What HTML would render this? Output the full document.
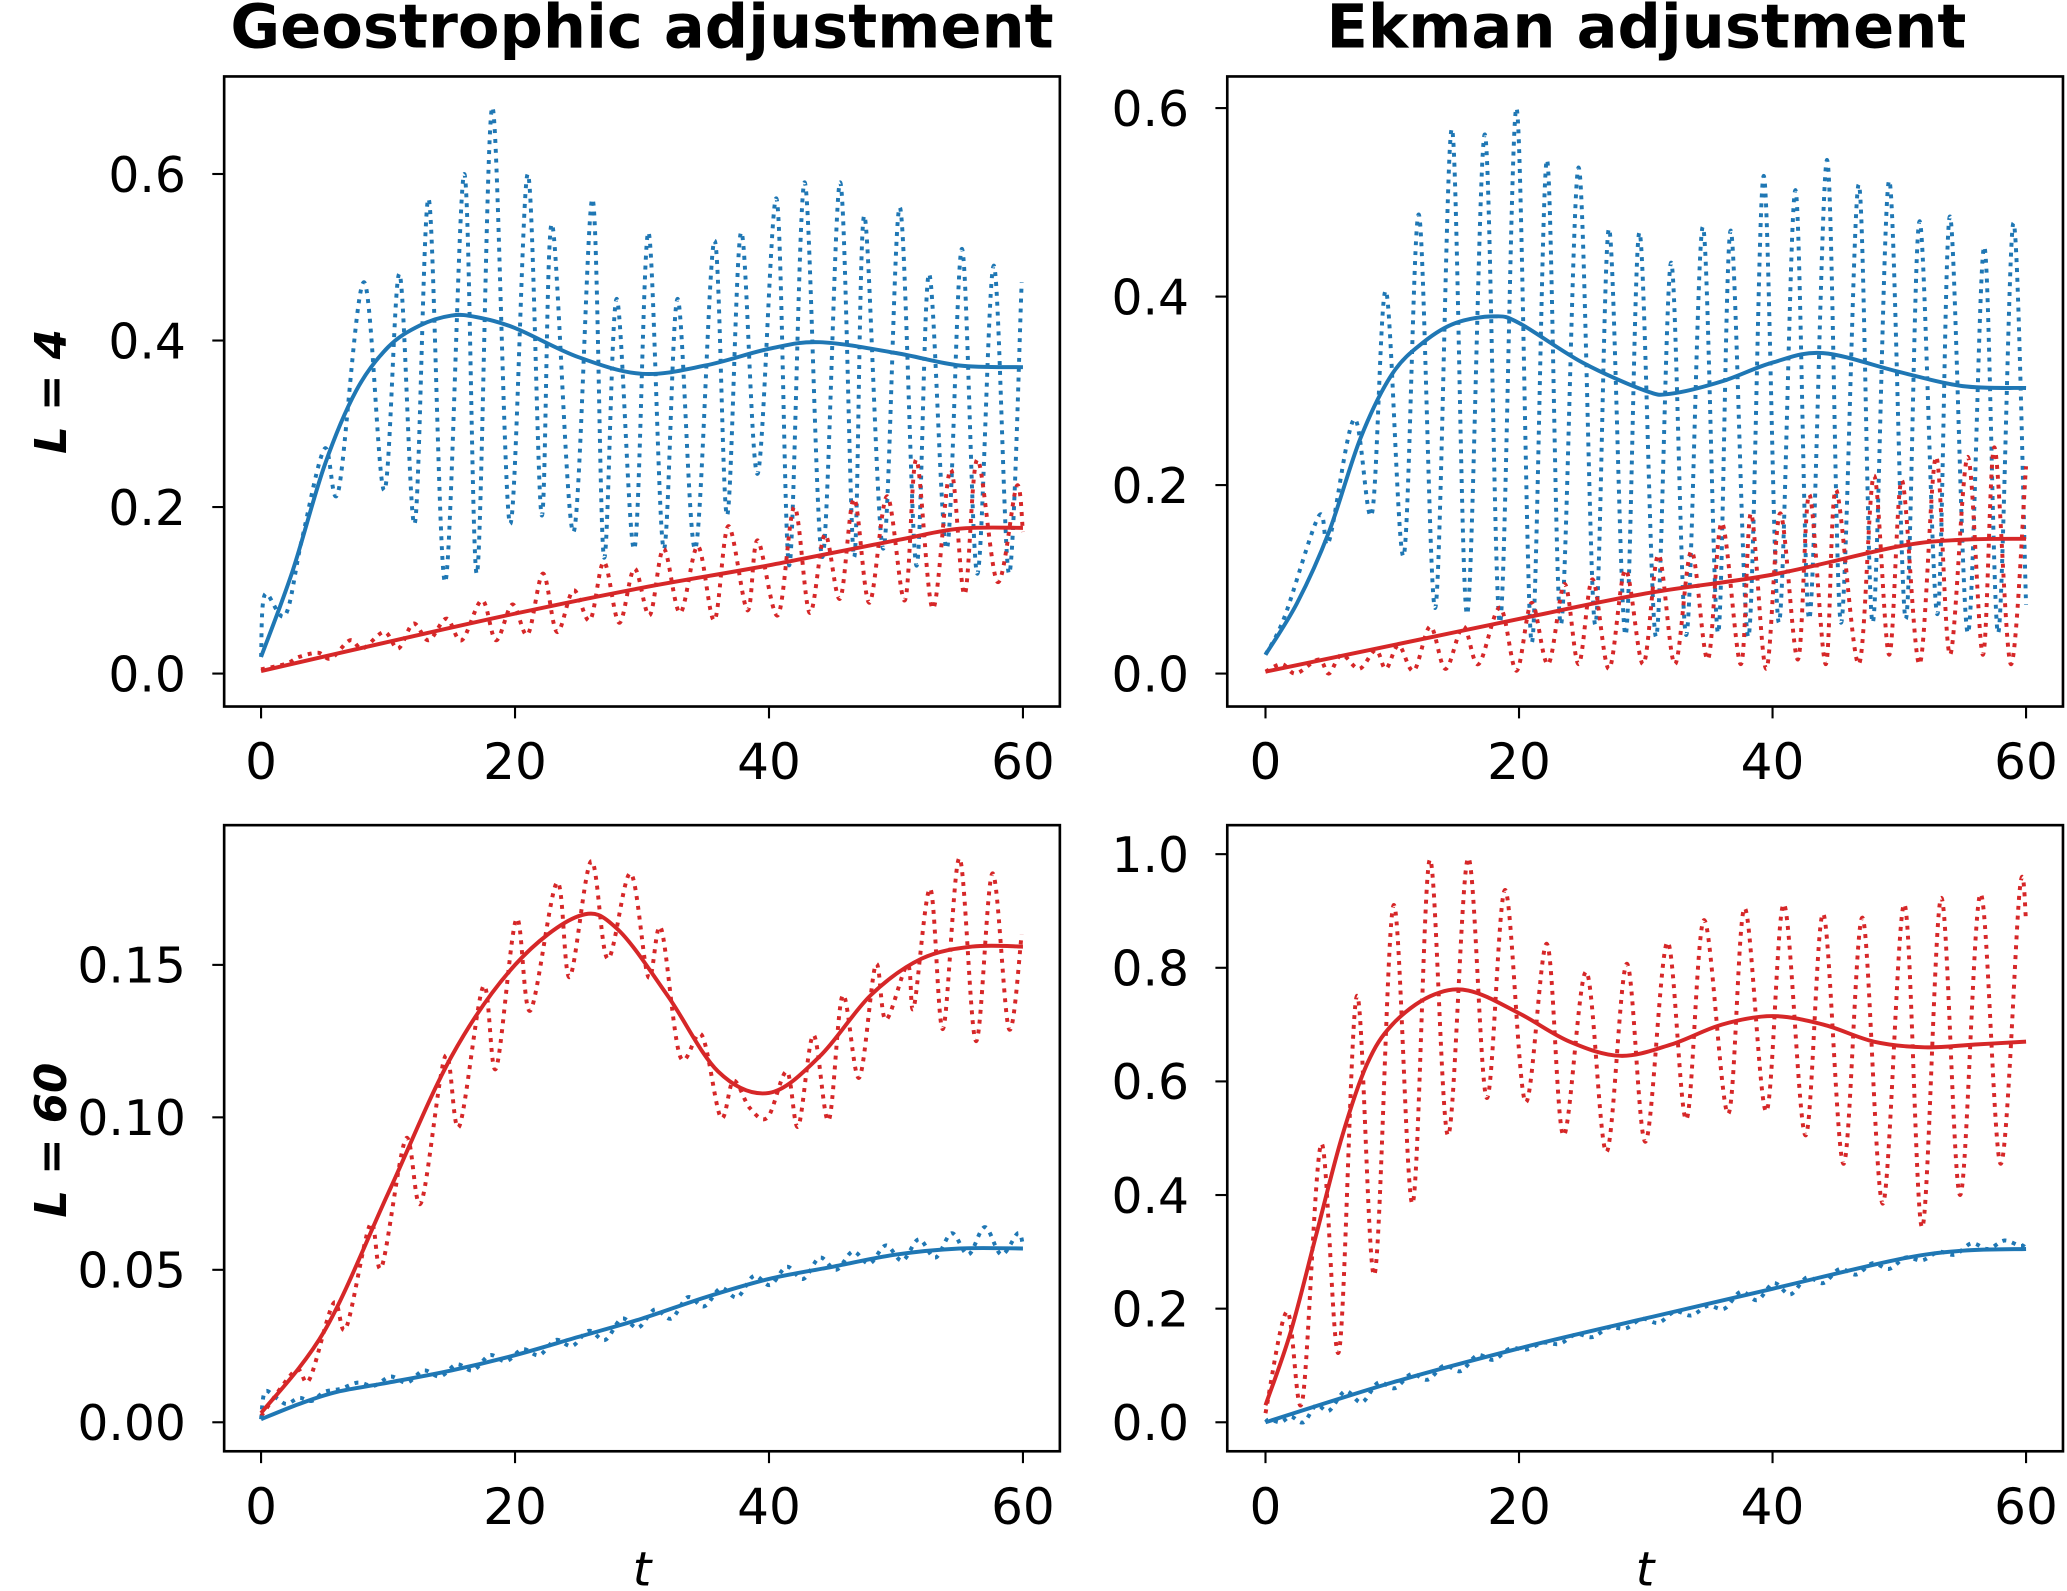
<!DOCTYPE html>
<html><head><meta charset="utf-8">
<style>
html,body{margin:0;padding:0;background:#fff;}
svg{display:block;}
text{font-family:"DejaVu Sans","Liberation Sans",sans-serif;fill:#000;}
</style></head>
<body>
<svg id="fig" xmlns="http://www.w3.org/2000/svg" width="2067" height="1591" viewBox="0 0 1568 1207">
<rect x="0" y="0" width="1568" height="1207" fill="#fff"/>
<text x="487" y="36" font-size="46" font-weight="bold" text-anchor="middle">Geostrophic adjustment</text>
<text x="1249" y="36" font-size="46" font-weight="bold" text-anchor="middle">Ekman adjustment</text>
<text transform="translate(50,297) rotate(-90)" font-size="33" font-weight="bold" font-style="italic" text-anchor="middle">L = 4</text>
<text transform="translate(50,865) rotate(-90)" font-size="33" font-weight="bold" font-style="italic" text-anchor="middle">L = 60</text>
<text x="487" y="1203" font-size="36" font-style="italic" text-anchor="middle">t</text>
<text x="1248" y="1203" font-size="36" font-style="italic" text-anchor="middle">t</text>
<g id="plots"></g>
</svg>
<script>
// ---------- data ----------
const xTicks = [0, 20, 40, 60];
const yTicksTL = [0.0, 0.2, 0.4, 0.6], yLabelsTL = ["0.0","0.2","0.4","0.6"];
const yTicksTR = [0.0, 0.2, 0.4, 0.6], yLabelsTR = ["0.0","0.2","0.4","0.6"];
const yTicksBL = [0, 0.05, 0.10, 0.15], yLabelsBL = ["0.00","0.05","0.10","0.15"];
const yTicksBR = [0, 0.2, 0.4, 0.6, 0.8, 1.0], yLabelsBR = ["0.0","0.2","0.4","0.6","0.8","1.0"];

// Top-left (Geostrophic, L=4)
const tlBlueSolidT = [0,2.5,5,7.5,10,12.5,15,17,20,25,30,35,40,44,50,55,60];
const tlBlueSolidV = [0.02,0.124,0.25,0.34,0.392,0.418,0.43,0.428,0.415,0.38,0.36,0.37,0.39,0.398,0.385,0.37,0.368];
const tlRedSolidT = [0,10,20,30,40,50,55,60];
const tlRedSolidV = [0.003,0.038,0.072,0.103,0.13,0.16,0.174,0.175];
const tlBlueDotT = [0,0.3,1.9,3.2,5,6.1,8.1,9.7,10.9,12.1,13.2,14.5,16,17,18.2,19.6,21,22.1,22.9,24.6,26.1,27,28,29.4,30.5,31.7,32.8,34.2,35.7,36.7,37.8,39.1,40.6,41.6,42.8,44.2,45.6,46.7,47.5,49,50.3,51.6,52.6,54,55.2,56.4,57.7,58.9,59.9];
const tlBlueDotV = [0.02,0.095,0.07,0.16,0.27,0.22,0.47,0.22,0.48,0.18,0.57,0.11,0.60,0.12,0.68,0.18,0.60,0.19,0.54,0.17,0.57,0.14,0.45,0.15,0.53,0.15,0.45,0.15,0.52,0.19,0.53,0.24,0.57,0.13,0.59,0.14,0.59,0.14,0.55,0.15,0.56,0.13,0.48,0.15,0.51,0.12,0.49,0.12,0.47];
const tlRedDotT = [0,2,3,4.5,5.5,7,8,9.7,10.8,12,13.2,14.6,15.8,17.4,18.5,19.8,21,22.2,23.3,24.6,25.9,27,28.2,29.4,30.6,31.7,33,34.4,35.7,36.8,38.3,39.1,40.7,42,43.2,44.4,45.6,46.7,47.9,49.3,50.7,51.6,52.9,54.3,55.4,56.4,58,59.5,60];
const tlRedDotV = [0.005,0.012,0.02,0.025,0.018,0.04,0.03,0.05,0.03,0.06,0.04,0.066,0.04,0.088,0.04,0.083,0.047,0.12,0.05,0.10,0.064,0.134,0.061,0.126,0.07,0.15,0.073,0.153,0.064,0.177,0.076,0.16,0.07,0.20,0.073,0.167,0.09,0.21,0.085,0.213,0.088,0.257,0.078,0.245,0.095,0.257,0.11,0.225,0.17];

// Top-right (Ekman, L=4)
const trBlueSolidT = [0,2.5,5,7.5,10,12.5,15,18,20,25,30,32,36,40,44,50,55,60];
const trBlueSolidV = [0.02,0.075,0.15,0.25,0.318,0.352,0.372,0.379,0.372,0.33,0.30,0.297,0.31,0.33,0.34,0.32,0.305,0.303];
const trRedSolidT = [0,10,20,30,40,50,55,60];
const trRedSolidV = [0.002,0.03,0.058,0.085,0.105,0.135,0.142,0.143];
const trBlueDotT = [0,1.5,4.2,5,7,8.4,9.5,10.9,12.1,13.4,14.7,15.9,17.3,18.5,19.8,21,22.2,23.3,24.7,26,27.1,28.4,29.5,30.8,32,33.2,34.5,35.7,36.7,38.1,39.3,40.5,41.8,42.9,44.3,45.4,46.8,47.9,49.2,50.5,51.6,53,54,55.4,56.7,57.8,59,60];
const trBlueDotV = [0.02,0.06,0.167,0.14,0.27,0.17,0.406,0.125,0.487,0.07,0.578,0.063,0.572,0.054,0.60,0.033,0.545,0.052,0.537,0.052,0.472,0.041,0.468,0.039,0.436,0.041,0.474,0.043,0.47,0.039,0.528,0.054,0.513,0.058,0.545,0.054,0.519,0.054,0.523,0.058,0.48,0.063,0.485,0.043,0.453,0.043,0.478,0.073];
const trRedDotT = [0,1.3,2.4,4.2,5,6,7.4,8.7,9.5,10.5,11.7,13,14.2,15.6,16.8,18.5,19.8,21,22.3,23.6,24.7,25.8,27.1,28.4,29.8,31,32.3,33.6,34.9,36,37.5,38.3,39.5,40.6,42,42.9,44.2,45,46.8,48,49.2,50.2,51.6,52.9,54,55.4,56.6,57.5,58.8,60];
const trRedDotV = [0.002,0.01,0.0,0.015,0.0,0.02,0.005,0.025,0.005,0.03,0.003,0.05,0.005,0.05,0.01,0.07,0.003,0.075,0.01,0.095,0.01,0.10,0.005,0.11,0.01,0.126,0.01,0.13,0.015,0.16,0.01,0.17,0.005,0.17,0.015,0.19,0.01,0.195,0.01,0.21,0.02,0.205,0.01,0.23,0.02,0.23,0.02,0.24,0.01,0.22];

// Bottom-left (Geostrophic, L=60)
const blRedSolidT = [0,5,10,15,20,25,28,32,36,40,44,48,52,56,60];
const blRedSolidV = [0.003,0.03,0.075,0.12,0.15,0.166,0.162,0.14,0.115,0.108,0.12,0.14,0.152,0.156,0.156];
const blBlueSolidT = [0,3,6,10,15,20,25,30,35,40,45,50,55,60];
const blBlueSolidV = [0.001,0.006,0.010,0.013,0.017,0.022,0.028,0.034,0.041,0.047,0.051,0.055,0.057,0.057];
const blRedDotT = [0,2.7,3.8,5.7,6.7,8.6,9.5,11.4,12.6,14.5,15.6,17.5,18.5,20.1,21.2,23.3,24.3,26,27.3,29.1,30.5,31.5,33,34.7,36.2,37.2,38.5,39.9,41.4,42.3,43.5,44.7,45.8,47.1,48.4,49.2,50.9,51.4,52.7,53.7,55,56.3,57.6,58.9,59.9];
const blRedDotV = [0.002,0.017,0.014,0.039,0.031,0.065,0.051,0.093,0.072,0.12,0.097,0.143,0.116,0.165,0.135,0.177,0.146,0.184,0.152,0.18,0.146,0.162,0.12,0.127,0.10,0.112,0.103,0.10,0.115,0.097,0.127,0.099,0.14,0.113,0.15,0.132,0.15,0.136,0.175,0.129,0.185,0.125,0.18,0.129,0.16];
const smallT = [0,0.3,1.2,2,3,4,5,6.3,7.6,8.9,10.2,11.5,12.8,14.1,15.4,16.7,18,19.3,20.6,21.9,23.2,24.5,25.8,27.1,28.4,29.7,31,32.3,33.6,34.9,36.2,37.5,38.8,40.1,41.4,42.7,44,45.3,46.6,47.9,49.2,50.5,51.8,53.1,54.4,55.7,57,58.3,59.6,60];
const blBlueDotV = [0.001,0.010,0.008,0.006,0.008,0.007,0.010,0.011,0.013,0.012,0.015,0.013,0.017,0.015,0.019,0.017,0.022,0.020,0.024,0.022,0.027,0.025,0.030,0.027,0.034,0.031,0.037,0.034,0.041,0.038,0.044,0.041,0.048,0.045,0.051,0.047,0.054,0.050,0.056,0.052,0.058,0.053,0.060,0.054,0.062,0.055,0.064,0.055,0.062,0.058];

// Bottom-right (Ekman, L=60)
const brRedSolidT = [0,2,4,6,8,10,13,16,20,24,28,32,36,40,44,48,52,56,60];
const brRedSolidV = [0.03,0.16,0.33,0.5,0.63,0.70,0.75,0.76,0.72,0.67,0.645,0.665,0.70,0.715,0.70,0.67,0.66,0.665,0.67];
const brBlueSolidT = [0,10,20,30,40,50,55,60];
const brBlueSolidV = [0.0,0.07,0.13,0.183,0.235,0.287,0.302,0.305];
const brRedDotT = [0,1.7,2.9,4.4,5.8,7.2,8.6,10.1,11.6,12.95,14.4,15.98,17.45,18.9,20.5,22.2,23.5,25.3,26.9,28.5,29.98,31.7,33.2,34.6,36.5,37.8,39.5,40.9,42.6,44,45.6,47.1,48.7,50.4,51.8,53.3,54.8,56.4,58,59.5,60];
const brRedDotV = [0.016,0.195,0.037,0.49,0.125,0.75,0.26,0.91,0.385,0.99,0.505,0.993,0.571,0.937,0.564,0.842,0.505,0.793,0.476,0.807,0.494,0.845,0.533,0.884,0.543,0.905,0.547,0.912,0.505,0.895,0.455,0.888,0.385,0.912,0.343,0.923,0.40,0.93,0.455,0.937,0.884];
const brBlueDotV = [0.0,0.005,0.0,0.01,0.0,0.03,0.02,0.055,0.035,0.07,0.06,0.085,0.075,0.10,0.09,0.118,0.11,0.13,0.128,0.14,0.138,0.155,0.15,0.167,0.165,0.182,0.175,0.195,0.188,0.205,0.2,0.23,0.215,0.245,0.225,0.255,0.245,0.27,0.26,0.28,0.27,0.29,0.285,0.3,0.295,0.315,0.305,0.32,0.31,0.32];

// ---------- drawing ----------
const NS = "http://www.w3.org/2000/svg";
const root = document.getElementById('plots');
const BLUE = "#1f77b4", RED = "#d62728";

function mk(tag, attrs) {
  const e = document.createElementNS(NS, tag);
  for (const k in attrs) e.setAttribute(k, attrs[k]);
  return e;
}
function smoothPath(ts, vs, xf, yf) {
  const p = ts.map((t, i) => [xf(t), yf(vs[i])]);
  let d = "M" + p[0][0].toFixed(2) + "," + p[0][1].toFixed(2);
  for (let i = 0; i < p.length - 1; i++) {
    const p0 = p[Math.max(0, i - 1)], p1 = p[i], p2 = p[i + 1], p3 = p[Math.min(p.length - 1, i + 2)];
    const c1x = p1[0] + (p2[0] - p0[0]) / 6, c1y = p1[1] + (p2[1] - p0[1]) / 6;
    const c2x = p2[0] - (p3[0] - p1[0]) / 6, c2y = p2[1] - (p3[1] - p1[1]) / 6;
    d += " C" + c1x.toFixed(2) + "," + c1y.toFixed(2) + " " + c2x.toFixed(2) + "," + c2y.toFixed(2) + " " + p2[0].toFixed(2) + "," + p2[1].toFixed(2);
  }
  return d;
}

function panel(cfg) {
  const g = mk('g', {});
  
  
  root.appendChild(g);
  const xf = t => cfg.x0 + (t - 0) / 60 * (cfg.x60 - cfg.x0);
  const yf = v => cfg.yZero + (v - 0) / (cfg.yTopVal) * (cfg.yTopPix - cfg.yZero);
  const clipId = cfg.name + "-clip";
  const cp = mk('clipPath', {id: clipId});
  cp.appendChild(mk('rect', {x: cfg.bx0, y: cfg.by0, width: cfg.bx1 - cfg.bx0, height: cfg.by1 - cfg.by0}));
  g.appendChild(cp);
  const series = mk('g', {'clip-path': 'url(#' + clipId + ')'});
  g.appendChild(series);
  for (const s of cfg.series) {
    const path = mk('path', {d: smoothPath(s.t, s.v, xf, yf), fill: 'none', stroke: s.color, 'stroke-width': 3,
      'stroke-dasharray': s.dotted ? '3,4.5' : 'none', 'stroke-linejoin': 'round'});
    
    
    series.appendChild(path);
  }
  const frame = mk('rect', {x: cfg.bx0, y: cfg.by0, width: cfg.bx1 - cfg.bx0, height: cfg.by1 - cfg.by0, fill: 'none', stroke: '#000', 'stroke-width': 2});
  
  
  g.appendChild(frame);
  xTicks.forEach(t => {
    const x = xf(t);
    const tk = mk('line', {x1: x, x2: x, y1: cfg.by1, y2: cfg.by1 + 9, stroke: '#000', 'stroke-width': 1.6});
    
    
    g.appendChild(tk);
    const lb = mk('text', {x: x, y: cfg.by1 + 55, 'font-size': 38, 'text-anchor': 'middle'});
    lb.textContent = String(t);
    
    
    g.appendChild(lb);
  });
  cfg.yTicks.forEach((v, i) => {
    const y = yf(v);
    const tk = mk('line', {x1: cfg.bx0 - 9, x2: cfg.bx0, y1: y, y2: y, stroke: '#000', 'stroke-width': 1.6});
    
    
    g.appendChild(tk);
    const lb = mk('text', {x: cfg.bx0 - 29, y: y + 13.5, 'font-size': 37, 'text-anchor': 'end'});
    lb.textContent = cfg.yLabels[i];
    
    
    g.appendChild(lb);
  });
}

panel({name: 'panel-geostrophic-l4', bx0: 170, bx1: 804, by0: 58, by1: 536, x0: 198, x60: 776, yZero: 511, yTopVal: 0.6, yTopPix: 132,
  yTicks: yTicksTL, yLabels: yLabelsTL, series: [
  {name: 'blue-dotted', t: tlBlueDotT, v: tlBlueDotV, color: BLUE, dotted: true},
  {name: 'red-dotted', t: tlRedDotT, v: tlRedDotV, color: RED, dotted: true},
  {name: 'blue-solid', t: tlBlueSolidT, v: tlBlueSolidV, color: BLUE},
  {name: 'red-solid', t: tlRedSolidT, v: tlRedSolidV, color: RED}]});
panel({name: 'panel-ekman-l4', bx0: 931, bx1: 1565, by0: 58, by1: 536, x0: 960, x60: 1537, yZero: 511, yTopVal: 0.6, yTopPix: 82,
  yTicks: yTicksTR, yLabels: yLabelsTR, series: [
  {name: 'blue-dotted', t: trBlueDotT, v: trBlueDotV, color: BLUE, dotted: true},
  {name: 'red-dotted', t: trRedDotT, v: trRedDotV, color: RED, dotted: true},
  {name: 'blue-solid', t: trBlueSolidT, v: trBlueSolidV, color: BLUE},
  {name: 'red-solid', t: trRedSolidT, v: trRedSolidV, color: RED}]});
panel({name: 'panel-geostrophic-l60', bx0: 170, bx1: 804, by0: 626, by1: 1101, x0: 198, x60: 776, yZero: 1079, yTopVal: 0.15, yTopPix: 732,
  yTicks: yTicksBL, yLabels: yLabelsBL, series: [
  {name: 'red-dotted', t: blRedDotT, v: blRedDotV, color: RED, dotted: true},
  {name: 'blue-dotted', t: smallT, v: blBlueDotV, color: BLUE, dotted: true},
  {name: 'red-solid', t: blRedSolidT, v: blRedSolidV, color: RED},
  {name: 'blue-solid', t: blBlueSolidT, v: blBlueSolidV, color: BLUE}]});
panel({name: 'panel-ekman-l60', bx0: 931, bx1: 1565, by0: 626, by1: 1101, x0: 960, x60: 1537, yZero: 1079, yTopVal: 1.0, yTopPix: 648,
  yTicks: yTicksBR, yLabels: yLabelsBR, series: [
  {name: 'red-dotted', t: brRedDotT, v: brRedDotV, color: RED, dotted: true},
  {name: 'blue-dotted', t: smallT, v: brBlueDotV, color: BLUE, dotted: true},
  {name: 'red-solid', t: brRedSolidT, v: brRedSolidV, color: RED},
  {name: 'blue-solid', t: brBlueSolidT, v: brBlueSolidV, color: BLUE}]});
</script>
</body></html>
